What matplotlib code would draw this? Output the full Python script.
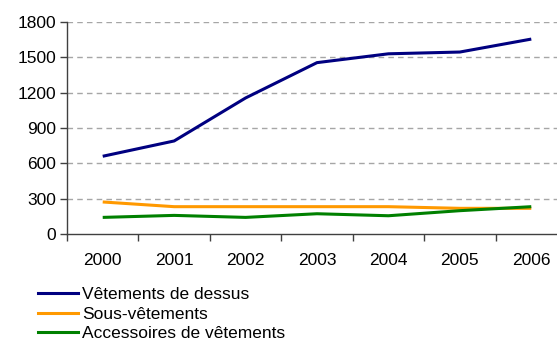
import matplotlib.pyplot as plt
from matplotlib.lines import Line2D

annees = ["2000", "2001", "2002", "2003", "2004", "2005", "2006"]
dessus = [660, 790, 1155, 1455, 1530, 1545, 1655]
sous_vetements = [272, 232, 232, 232, 232, 218, 218]
accessoires = [141, 158, 141, 172, 155, 198, 232]

noms = ["Vêtements de dessus", "Sous-vêtements", "Accessoires de vêtements"]
couleurs = ["#000080", "#FF9900", "#008000"]

plt.rcParams["font.family"] = ["Liberation Sans", "DejaVu Sans"]

fig = plt.figure(figsize=(5.57, 3.43), dpi=100)
ax = fig.add_axes([67 / 557, 1 - 234 / 343, 500 / 557, 212 / 343])

x = list(range(len(annees)))
for serie, c in zip([dessus, sous_vetements, accessoires], couleurs):
    ax.plot(x, serie, color=c, linewidth=2.2, solid_capstyle="butt", zorder=3)

ax.set_xlim(-0.5, 6.5)
ax.set_ylim(0, 1800)
ax.set_yticks(range(0, 1801, 300))
for y in range(300, 1801, 300):
    ax.axhline(y, color="#A6A6A6", linestyle=(0, (4, 3)), linewidth=1, zorder=1)

# ticks entre les catégories, libellés au centre
ax.set_xticks([i - 0.5 for i in x])
ax.set_xticklabels([])
ax.set_xticks(x, minor=True)
ax.set_xticklabels(annees, minor=True)
ax.tick_params(axis="x", which="major", length=5, direction="out", color="#404040", width=1)
ax.tick_params(axis="x", which="minor", length=0, pad=14, labelsize=12.5)
ax.tick_params(axis="y", length=5, direction="out", color="#404040", width=1, labelsize=12.5, pad=3)

for s in ["top", "right"]:
    ax.spines[s].set_visible(False)
for s in ["left", "bottom"]:
    ax.spines[s].set_color("#404040")
    ax.spines[s].set_linewidth(1)

poignees = [Line2D([0], [0], color=c, linewidth=2.2) for c in couleurs]
fig.legend(poignees, noms, loc="upper left", bbox_to_anchor=(38 / 557, 1 - 287 / 343),
           frameon=False, fontsize=12.5, handlelength=2.3, handletextpad=0.25,
           labelspacing=0.26, borderpad=0, borderaxespad=0)

fig.savefig("out.png", dpi=100)
